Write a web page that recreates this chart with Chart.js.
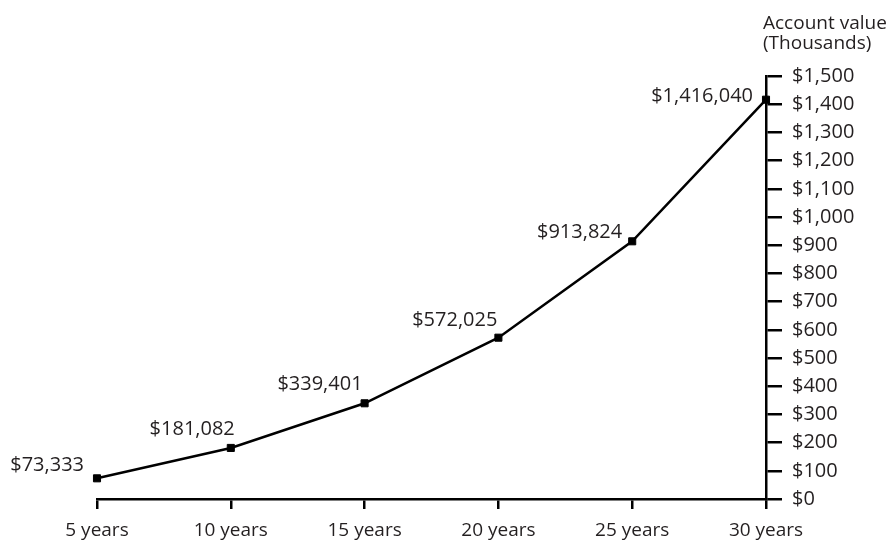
<!DOCTYPE html>
<html>
<head>
<meta charset="utf-8">
<style>
    html, body { margin: 0; padding: 0; background: #fff; }
    #wrap { width: 893px; height: 540px; position: relative; }
</style>
<script src="https://cdn.jsdelivr.net/npm/chart.js@4/dist/chart.umd.min.js"></script>
</head>
<body>
<div id="wrap"><canvas id="valueChart"></canvas></div>
<script>
const periods = ["5 years", "10 years", "15 years", "20 years", "25 years", "30 years"];
// account value in thousands of dollars
const accountValues = [73.333, 181.082, 339.401, 572.025, 913.824, 1416.040];
const yMin = 0, yMax = 1500, yStep = 100;
const axisTitleLines = ["Account value", "(Thousands)"];

// where each value label sits against its point: [dx of right edge, dy of baseline]
const labelNudges = [[-13, -7], [4, -13], [-2, -13], [-1, -12], [-10, -3], [-13, 2]];

const ink = "#231f20";
const fontFamily = "'Open Sans', 'Noto Sans', sans-serif";

const money = v => "$" + Math.round(v).toLocaleString("en-US");

// === Value labels next to the points + axis title ===
const annotations = {
    id: "annotations",
    afterDatasetsDraw(chart) {
        const ctx = chart.ctx;
        const meta = chart.getDatasetMeta(0);
        ctx.save();
        ctx.fillStyle = ink;
        ctx.font = "20px " + fontFamily;
        ctx.textAlign = "right";
        ctx.textBaseline = "alphabetic";
        meta.data.forEach((pt, i) => {
            const [dx, dy] = labelNudges[i];
            ctx.fillText(money(accountValues[i] * 1000), pt.x + dx, pt.y + dy);
        });

        const yScale = chart.scales.y;
        ctx.font = "19px " + fontFamily;
        ctx.textAlign = "left";
        axisTitleLines.forEach((line, i) => {
            ctx.fillText(line, yScale.left - 3, 29 + i * 20);
        });
        ctx.restore();
    }
};

const valueCtx = document.getElementById("valueChart");
const valueChart = new Chart(valueCtx, {
    type: "line",
    data: {
        labels: periods,
        datasets: [{
            data: accountValues,
            borderColor: "#000",
            borderWidth: 2.5,
            pointStyle: "rect",
            pointRadius: 5,
            pointBorderWidth: 1,
            pointBackgroundColor: "#000",
            pointBorderColor: "#000",
            tension: 0,
            fill: false
        }]
    },
    options: {
        responsive: true,
        maintainAspectRatio: false,
        animation: false,
        layout: { padding: { left: 97, top: 76, right: 0, bottom: 0 } },
        plugins: {
            legend: { display: false },
            tooltip: { enabled: false }
        },
        scales: {
            x: {
                offset: false,
                border: { display: true, color: "#000", width: 2.5 },
                grid: {
                    display: true,
                    drawOnChartArea: false,
                    drawTicks: true,
                    tickLength: 10,
                    color: "#000",
                    lineWidth: 2.5
                },
                ticks: {
                    color: ink,
                    font: { family: fontFamily, size: 19 },
                    padding: 10,
                    maxRotation: 0,
                    autoSkip: false
                },
                afterFit(scale) { scale.height = 41; }
            },
            y: {
                position: "right",
                min: yMin,
                max: yMax,
                border: { display: true, color: "#000", width: 2.5 },
                grid: {
                    display: true,
                    drawOnChartArea: false,
                    drawTicks: true,
                    tickLength: 16,
                    color: "#000",
                    lineWidth: 2.5
                },
                ticks: {
                    stepSize: yStep,
                    color: ink,
                    font: { family: fontFamily, size: 20 },
                    padding: 10,
                    callback: v => money(v)
                },
                afterFit(scale) { scale.width = 127; }
            }
        }
    },
    plugins: [annotations]
});
</script>
</body>
</html>
